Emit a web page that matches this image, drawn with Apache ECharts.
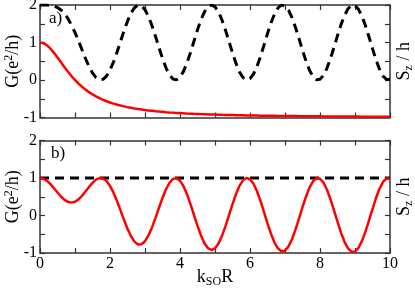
<!DOCTYPE html>
<html>
<head>
<meta charset="utf-8">
<script src="https://cdn.jsdelivr.net/npm/echarts@6/dist/echarts.min.js"></script>
<style>html,body{margin:0;padding:0;background:#fff;}#c{width:415px;height:290px;}</style>
</head>
<body>
<div id="c"></div>
<script>
var kR = [0,0.1,0.2,0.3,0.4,0.5,0.6,0.7,0.8,0.9,1.0,1.1,1.2,1.3,1.4,1.5,1.6,1.7,1.8,1.9,2.0,2.1,2.2,2.3,2.4,2.5,2.6,2.7,2.8,2.9,3.0,3.1,3.2,3.3,3.4,3.5,3.6,3.7,3.8,3.9,4.0,4.1,4.2,4.3,4.4,4.5,4.6,4.7,4.8,4.9,5.0,5.1,5.2,5.3,5.4,5.5,5.6,5.7,5.8,5.9,6.0,6.1,6.2,6.3,6.4,6.5,6.6,6.7,6.8,6.9,7.0,7.1,7.2,7.3,7.4,7.5,7.6,7.7,7.8,7.9,8.0,8.1,8.2,8.3,8.4,8.5,8.6,8.7,8.8,8.9,9.0,9.1,9.2,9.3,9.4,9.5,9.6,9.7,9.8,9.9,10.0];

// panel a) conductance (red)
var condA = [1.000,0.980,0.923,0.835,0.724,0.600,0.471,0.342,0.220,0.105,0.000,-0.095,-0.180,-0.257,-0.324,-0.385,-0.438,-0.486,-0.528,-0.566,-0.600,-0.630,-0.658,-0.682,-0.704,-0.724,-0.742,-0.759,-0.774,-0.787,-0.800,-0.812,-0.822,-0.832,-0.841,-0.849,-0.857,-0.864,-0.870,-0.877,-0.882,-0.888,-0.893,-0.897,-0.902,-0.906,-0.910,-0.913,-0.917,-0.920,-0.923,-0.926,-0.929,-0.931,-0.934,-0.936,-0.938,-0.940,-0.942,-0.944,-0.946,-0.948,-0.949,-0.951,-0.952,-0.954,-0.955,-0.956,-0.958,-0.959,-0.960,-0.961,-0.962,-0.963,-0.964,-0.965,-0.966,-0.967,-0.968,-0.968,-0.969,-0.970,-0.971,-0.971,-0.972,-0.973,-0.973,-0.974,-0.975,-0.975,-0.976,-0.976,-0.977,-0.977,-0.978,-0.978,-0.979,-0.979,-0.979,-0.980,-0.980];

// panel a) spin (black dashed)
var spinA = [2.000,2.000,1.998,1.990,1.971,1.932,1.867,1.769,1.636,1.467,1.266,1.042,0.806,0.573,0.363,0.188,0.063,0.004,0.017,0.105,0.263,0.480,0.741,1.025,1.309,1.569,1.782,1.929,1.996,1.978,1.873,1.691,1.446,1.162,0.863,0.574,0.324,0.135,0.025,0.003,0.074,0.230,0.457,0.734,1.038,1.339,1.607,1.818,1.954,2.000,1.952,1.814,1.599,1.329,1.026,0.721,0.442,0.215,0.064,0.001,0.034,0.159,0.363,0.629,0.930,1.239,1.524,1.759,1.922,1.996,1.975,1.861,1.664,1.403,1.103,0.793,0.503,0.262,0.090,0.007,0.019,0.126,0.317,0.574,0.873,1.182,1.476,1.723,1.900,1.990,1.985,1.884,1.697,1.445,1.146,0.836,0.540,0.289,0.107,0.012,0.012];

// panel b) conductance (red)
var condB = [1.000,0.980,0.923,0.836,0.728,0.614,0.506,0.418,0.362,0.343,0.367,0.430,0.524,0.640,0.760,0.870,0.955,0.997,0.987,0.918,0.790,0.609,0.386,0.138,-0.115,-0.353,-0.552,-0.697,-0.771,-0.767,-0.686,-0.532,-0.318,-0.064,0.206,0.469,0.699,0.874,0.977,0.997,0.930,0.783,0.568,0.303,0.013,-0.276,-0.534,-0.740,-0.873,-0.920,-0.877,-0.747,-0.542,-0.283,0.008,0.302,0.571,0.791,0.938,0.999,0.967,0.846,0.647,0.387,0.092,-0.210,-0.490,-0.721,-0.881,-0.955,-0.936,-0.824,-0.632,-0.377,-0.083,0.221,0.506,0.743,0.912,0.993,0.981,0.876,0.688,0.434,0.139,-0.166,-0.456,-0.701,-0.876,-0.966,-0.961,-0.861,-0.677,-0.428,-0.133,0.173,0.466,0.714,0.894,0.988,0.988];

// panel b) spin (black dashed)
var spinBx = [0, 10];
var spinB = [1, 1];

var xTicks = [0, 2, 4, 6, 8, 10];
var yTicks = [-1, 0, 1, 2];
var panelLabels = ['a)', 'b)'];

function pairs(xs, ys) { return xs.map(function (x, i) { return [x, ys[i]]; }); }

var FONT = '"Liberation Serif","DejaVu Serif",serif';
var frame = { show: true, onZero: false, lineStyle: { color: '#333', width: 1.5 } };
var tick = { show: true, inside: true, length: 5, lineStyle: { color: '#333', width: 1.2 } };

function xAx(g, pos, labels) {
  var a = {
    type: 'value', gridIndex: g, position: pos, min: 0, max: 10, interval: 1,
    axisLine: frame, axisTick: tick, splitLine: { show: false },
    axisLabel: { show: labels, fontFamily: FONT, fontSize: 16, color: '#000', margin: 3,
      formatter: function (v) { return xTicks.indexOf(v) >= 0 ? String(v) : ''; } }
  };
  if (labels) {
    a.name = 'k{sub|SO}R';
    a.nameLocation = 'middle';
    a.nameGap = 13;
    a.nameMoveOverlap = false;
    a.nameTextStyle = { fontFamily: FONT, fontSize: 18, color: '#000', verticalAlign: 'top',
      rich: { sub: { fontFamily: FONT, fontSize: 12, color: '#000', verticalAlign: 'bottom', padding: [10, 0, 0, 0] } } };
  }
  return a;
}
function yAx(g, pos, labels, name) {
  var a = {
    type: 'value', gridIndex: g, position: pos, min: -1, max: 2, interval: 0.5,
    axisLine: frame, axisTick: tick, splitLine: { show: false },
    axisLabel: { show: labels, fontFamily: FONT, fontSize: 16, color: '#000', margin: 3,
      formatter: function (v) { return yTicks.indexOf(v) >= 0 ? String(v) : ''; } },
    name: name, nameLocation: 'middle', nameRotate: 90,
    nameGap: labels ? 16 : 3,
    nameMoveOverlap: false,
    nameTextStyle: { fontFamily: FONT, fontSize: 18, color: '#000',
      rich: {
        sup: { fontFamily: FONT, fontSize: 12, color: '#000', verticalAlign: 'bottom', padding: [0, 0, 9, 0] },
        sub: { fontFamily: FONT, fontSize: 12, color: '#000', verticalAlign: 'bottom', padding: [10, 0, 0, 0] }
      } }
  };
  return a;
}

var chart = echarts.init(document.getElementById('c'), null, { renderer: 'canvas' });
chart.setOption({
  animation: false,
  backgroundColor: '#fff',
  grid: [
    { left: 40, right: 25, top: 5, height: 112.5, containLabel: false, outerBoundsMode: 'none' },
    { left: 40, right: 25, top: 140.5, height: 112.5, containLabel: false, outerBoundsMode: 'none' }
  ],
  xAxis: [xAx(0, 'bottom', false), xAx(0, 'top', false), xAx(1, 'bottom', true), xAx(1, 'top', false)],
  yAxis: [yAx(0, 'left', true, 'G(e{sup|2}/h)'), yAx(0, 'right', false, 'S{sub|z} / h'),
          yAx(1, 'left', true, 'G(e{sup|2}/h)'), yAx(1, 'right', false, 'S{sub|z} / h')],
  graphic: [
    { type: 'text', left: 49, top: 10, style: { text: panelLabels[0], font: '17px ' + FONT, fill: '#000' } },
    { type: 'text', left: 51, top: 145, style: { text: panelLabels[1], font: '17px ' + FONT, fill: '#000' } }
  ],
  series: [
    { type: 'line', xAxisIndex: 0, yAxisIndex: 0, data: pairs(kR, spinA), showSymbol: false, z: 3,
      lineStyle: { color: '#000', width: 3, type: [9, 6] } },
    { type: 'line', xAxisIndex: 0, yAxisIndex: 0, data: pairs(kR, condA), showSymbol: false, z: 4,
      lineStyle: { color: '#ff0000', width: 2.5 } },
    { type: 'line', xAxisIndex: 2, yAxisIndex: 2, data: pairs(spinBx, spinB), showSymbol: false, z: 3,
      lineStyle: { color: '#000', width: 3, type: [9, 6] } },
    { type: 'line', xAxisIndex: 2, yAxisIndex: 2, data: pairs(kR, condB), showSymbol: false, z: 4,
      lineStyle: { color: '#ff0000', width: 2.5 } }
  ]
});
</script>
</body>
</html>
